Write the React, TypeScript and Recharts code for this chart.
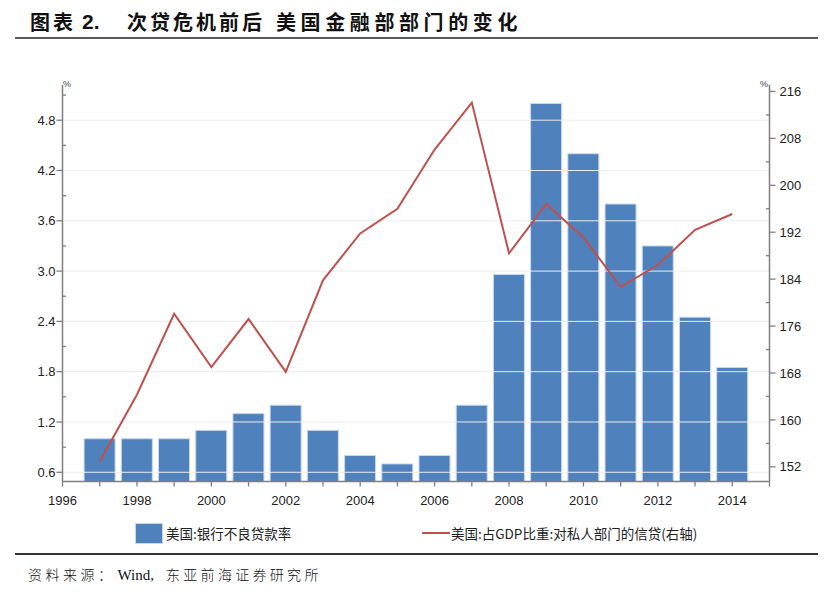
import React from "react";
import { ComposedChart, Bar, Line, XAxis, YAxis, ReferenceLine } from "recharts";

const years = [1997, 1998, 1999, 2000, 2001, 2002, 2003, 2004, 2005, 2006, 2007, 2008, 2009, 2010, 2011, 2012, 2013, 2014];
const nplRate = [1.0, 1.0, 1.0, 1.1, 1.3, 1.4, 1.1, 0.8, 0.7, 0.8, 1.4, 2.96, 5.0, 4.4, 3.8, 3.3, 2.45, 1.85];
const creditToGDP = [152.9, 164.3, 178.1, 169.0, 177.2, 168.2, 183.8, 191.8, 196.0, 206.1, 214.1, 188.4, 196.8, 191.1, 182.7, 186.4, 192.4, 195.1];

const xTicks = [1996, 1997, 1998, 1999, 2000, 2001, 2002, 2003, 2004, 2005, 2006, 2007, 2008, 2009, 2010, 2011, 2012, 2013, 2014, 2015];
const xLabelYears = [1996, 1998, 2000, 2002, 2004, 2006, 2008, 2010, 2012, 2014];
const leftTicks = [0.6, 0.9, 1.2, 1.5, 1.8, 2.1, 2.4, 2.7, 3.0, 3.3, 3.6, 3.9, 4.2, 4.5, 4.8, 5.1];
const leftMajor = [0.6, 1.2, 1.8, 2.4, 3.0, 3.6, 4.2, 4.8];
const rightTicks = [152, 156, 160, 164, 168, 172, 176, 180, 184, 188, 192, 196, 200, 204, 208, 212, 216];
const rightMajor = [152, 160, 168, 176, 184, 192, 200, 208, 216];

const seriesNames = ["美国:银行不良贷款率", "美国:占GDP比重:对私人部门的信贷(右轴)"];

const data = years.map((y, i) => ({ year: y, npl: nplRate[i], credit: creditToGDP[i] }));

const AXIS = "#7f7f7f";
const TXT = "#222";
const FONT = "'Liberation Sans', Arial, sans-serif";

const isMajor = (list: number[], v: number) => list.some((m) => Math.abs(m - v) < 1e-6);

const LeftTick = (props: any) => {
  const { x, y, payload } = props;
  const v = payload.value;
  const major = isMajor(leftMajor, v);
  return (
    <g>
      {major ? (
        <line x1={x - 6} x2={x} y1={y} y2={y} stroke={AXIS} strokeWidth={1.3} />
      ) : (
        <line x1={x} x2={x + 3.5} y1={y} y2={y} stroke={AXIS} strokeWidth={1.3} />
      )}
      {major && (
        <text x={x - 7} y={y} dy={4.6} textAnchor="end" fontSize={13} fontFamily={FONT} fill={TXT}>
          {v.toFixed(1)}
        </text>
      )}
    </g>
  );
};

const RightTick = (props: any) => {
  const { x, y, payload } = props;
  const v = payload.value;
  const major = isMajor(rightMajor, v);
  return (
    <g>
      {major ? (
        <line x1={x} x2={x + 6} y1={y} y2={y} stroke={AXIS} strokeWidth={1.3} />
      ) : (
        <line x1={x - 3.5} x2={x} y1={y} y2={y} stroke={AXIS} strokeWidth={1.3} />
      )}
      {major && (
        <text x={x + 10} y={y} dy={4.6} textAnchor="start" fontSize={13} fontFamily={FONT} fill={TXT}>
          {v}
        </text>
      )}
    </g>
  );
};

const BottomTick = (props: any) => {
  const { x, y, payload } = props;
  const v = payload.value;
  const labeled = xLabelYears.includes(v);
  return (
    <g>
      <line x1={x} x2={x} y1={y} y2={y + 5} stroke={AXIS} strokeWidth={1.3} />
      {labeled && (
        <text x={x} y={y + 23} textAnchor="middle" fontSize={13} fontFamily={FONT} fill={TXT}>
          {v}
        </text>
      )}
    </g>
  );
};

export default function App() {
  return (
    <div style={{ position: "absolute", left: 0, top: 0, width: 832, height: 600, background: "#fff", overflow: "hidden" }}>
      {/* Title */}
      <div style={{ position: "absolute", top: 12, left: 0, height: 20, lineHeight: "20px", fontSize: 20, fontWeight: 700, color: "#111", whiteSpace: "nowrap", fontFamily: "'Noto Sans CJK SC', sans-serif" }}>
        <span style={{ position: "absolute", left: 30, letterSpacing: 3 }}>图表</span>
        <span style={{ position: "absolute", left: 82, fontFamily: "'Liberation Sans', Arial, sans-serif", fontSize: 21 }}>2.</span>
        <span style={{ position: "absolute", left: 127, letterSpacing: 3 }}>次贷危机前后</span>
        <span style={{ position: "absolute", left: 276, letterSpacing: 4.6 }}>美国金融部部门的变化</span>
      </div>
      <div style={{ position: "absolute", left: 15, top: 37, width: 803, height: 2, background: "#5a5a5a" }} />

      {/* unit labels */}
      <div style={{ position: "absolute", left: 63, top: 79, fontSize: 9, fontFamily: FONT, color: "#444" }}>%</div>
      <div style={{ position: "absolute", left: 760, top: 79, fontSize: 9, fontFamily: FONT, color: "#444" }}>%</div>

      <div style={{ position: "absolute", left: 0, top: 0 }}>
        <ComposedChart width={832} height={600} data={data} margin={{ top: 85, right: 22.5, bottom: 88.5, left: 22.5 }}>
          <XAxis
            dataKey="year"
            type="number"
            domain={[1996, 2015]}
            ticks={xTicks}
            interval={0}
            tickSize={0}
            tickMargin={0}
            tick={<BottomTick />}
            axisLine={{ stroke: AXIS, strokeWidth: 1.5 }}
            height={30}
            allowDataOverflow
          />
          <YAxis
            yAxisId="left"
            orientation="left"
            domain={[0.49, 5.22]}
            ticks={leftTicks}
            interval={0}
            tickSize={0}
            tickMargin={0}
            tick={<LeftTick />}
            axisLine={{ stroke: AXIS, strokeWidth: 1.5 }}
            width={40}
            allowDataOverflow
          />
          <YAxis
            yAxisId="right"
            orientation="right"
            domain={[149.5, 217.1]}
            ticks={rightTicks}
            interval={0}
            tickSize={0}
            tickMargin={0}
            tick={<RightTick />}
            axisLine={{ stroke: AXIS, strokeWidth: 1.5 }}
            width={40}
            allowDataOverflow
          />
          {leftMajor.map((v) => (
            <ReferenceLine key={v} yAxisId="left" y={v} stroke="#ececec" strokeWidth={1} ifOverflow="hidden" />
          ))}
          <Bar yAxisId="left" dataKey="npl" name={seriesNames[0]} fill="#4F81BD" stroke="#c9d7ec" strokeWidth={1} barSize={31} isAnimationActive={false} />
          <Line yAxisId="right" dataKey="credit" name={seriesNames[1]} type="linear" stroke="#C0504D" strokeWidth={2} dot={false} isAnimationActive={false} />
        </ComposedChart>
      </div>

      {/* Legend */}
      <div style={{ position: "absolute", left: 135, top: 523, width: 28, height: 21, background: "#4F81BD", boxSizing: "border-box", border: "1px solid #c9d7ec" }} />
      <div style={{ position: "absolute", left: 166, top: 524, fontSize: 13.5, lineHeight: "18px", fontFamily: "'Noto Sans CJK SC', sans-serif", color: TXT, whiteSpace: "nowrap" }}>{seriesNames[0]}</div>
      <div style={{ position: "absolute", left: 422, top: 532, width: 28, height: 2, background: "#C0504D" }} />
      <div style={{ position: "absolute", left: 451, top: 524, fontSize: 13.5, lineHeight: "18px", fontFamily: "'Noto Sans CJK SC', sans-serif", color: TXT, whiteSpace: "nowrap" }}>{seriesNames[1]}</div>

      {/* Footer */}
      <div style={{ position: "absolute", left: 15, top: 553, width: 803, height: 2, background: "#333" }} />
      <div style={{ position: "absolute", left: 28, top: 565, fontSize: 14, lineHeight: "18px", color: "#111", whiteSpace: "nowrap", fontFamily: "'Liberation Serif', 'Noto Sans CJK SC', serif" }}>
        <span style={{ letterSpacing: 3.5, fontFamily: "'Noto Sans CJK SC', sans-serif", fontWeight: 300 }}>资料来源：</span>
        <span style={{ marginLeft: 2, fontSize: 15 }}>Wind,</span>
        <span style={{ marginLeft: 12, letterSpacing: 3.3, fontFamily: "'Noto Sans CJK SC', sans-serif", fontWeight: 300 }}>东亚前海证券研究所</span>
      </div>
    </div>
  );
}
